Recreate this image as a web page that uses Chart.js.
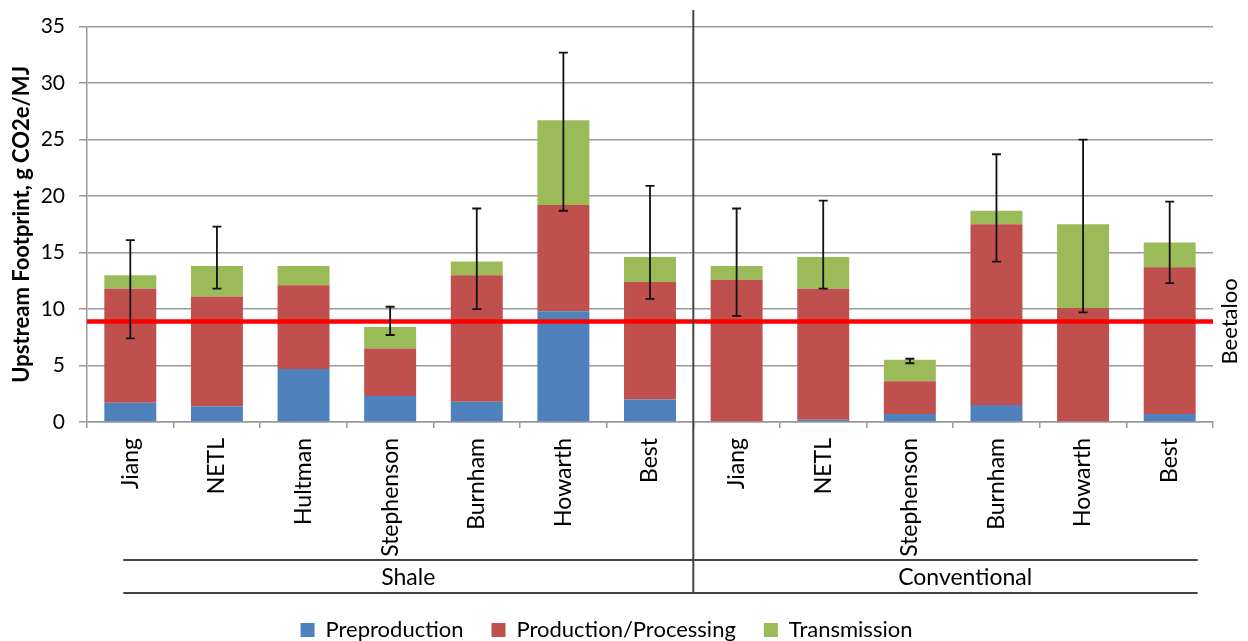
<!DOCTYPE html>
<html>
<head>
<meta charset="utf-8">
<title>Upstream Footprint</title>
<script src="https://cdn.jsdelivr.net/npm/chart.js@4"></script>
<style>
  html, body { margin: 0; padding: 0; background: #fff; }
  #wrap { width: 1248px; height: 641px; }
</style>
</head>
<body>
<div id="wrap"><canvas id="chart"></canvas></div>
<script>
const categories = ['Jiang', 'NETL', 'Hultman', 'Stephenson', 'Burnham', 'Howarth', 'Best',
  'Jiang', 'NETL', 'Stephenson', 'Burnham', 'Howarth', 'Best'];
const groups = ['Shale', 'Conventional'];
const groupSizes = [7, 6];

const preproduction = [1.7, 1.4, 4.7, 2.3, 1.8, 9.8, 2.0, 0, 0.2, 0.7, 1.5, 0, 0.7];
const production = [10.1, 9.7, 7.4, 4.2, 11.2, 9.4, 10.4, 12.6, 11.6, 2.9, 16.0, 10.1, 13.0];
const transmission = [1.2, 2.7, 1.7, 1.9, 1.2, 7.5, 2.2, 1.2, 2.8, 1.9, 1.2, 7.4, 2.2];

// error bar ends (absolute values), null = no error bar
const errLow = [7.4, 11.8, null, 7.7, 10.0, 18.7, 10.9, 9.4, 11.8, 5.2, 14.2, 9.7, 12.3];
const errHigh = [16.1, 17.3, null, 10.2, 18.9, 32.7, 20.9, 18.9, 19.6, 5.6, 23.7, 25.0, 19.5];

const beetaloo = 8.9;
const yTicks = [0, 5, 10, 15, 20, 25, 30, 35];

const FONT = 'Lato';
Chart.defaults.font.family = FONT;
Chart.defaults.color = '#000';

const overlay = {
  id: 'overlay',
  afterDatasetsDraw(chart) {
    const { ctx, chartArea, scales: { x, y } } = chart;
    ctx.save();

    // Beetaloo reference line
    const yb = y.getPixelForValue(beetaloo);
    ctx.strokeStyle = '#ff0000';
    ctx.lineWidth = 4.5;
    ctx.beginPath();
    ctx.moveTo(chartArea.left, yb);
    ctx.lineTo(chartArea.right, yb);
    ctx.stroke();

    ctx.fillStyle = '#000';
    ctx.font = `22px ${FONT}`;
    ctx.textAlign = 'center';
    ctx.textBaseline = 'middle';
    ctx.translate(chartArea.right + 17, yb);
    ctx.rotate(-Math.PI / 2);
    ctx.fillText('Beetaloo', 0, 0);
    ctx.restore();
    ctx.save();

    // error bars
    ctx.strokeStyle = '#111';
    ctx.lineWidth = 1.8;
    categories.forEach((c, i) => {
      if (errLow[i] == null) return;
      const px = x.getPixelForValue(i);
      const y1 = y.getPixelForValue(errLow[i]);
      const y2 = y.getPixelForValue(errHigh[i]);
      ctx.beginPath();
      ctx.moveTo(px, y1);
      ctx.lineTo(px, y2);
      ctx.moveTo(px - 4.5, y1);
      ctx.lineTo(px + 4.5, y1);
      ctx.moveTo(px - 4.5, y2);
      ctx.lineTo(px + 4.5, y2);
      ctx.stroke();
    });

    // group divider and group labels
    const step = x.getPixelForValue(1) - x.getPixelForValue(0);
    const divX = x.getPixelForValue(groupSizes[0] - 1) + step / 2;
    const rowTop = 560;
    const rowBottom = 593;
    const lineLeft = x.getPixelForValue(0) - 7;
    const lineRight = x.getPixelForValue(categories.length - 1) + 28;

    ctx.strokeStyle = '#444';
    ctx.lineWidth = 2;
    ctx.beginPath();
    ctx.moveTo(divX, 10);
    ctx.lineTo(divX, rowBottom);
    ctx.moveTo(lineLeft, rowTop);
    ctx.lineTo(lineRight, rowTop);
    ctx.moveTo(lineLeft, rowBottom);
    ctx.lineTo(lineRight, rowBottom);
    ctx.stroke();

    ctx.fillStyle = '#000';
    ctx.font = `23px ${FONT}`;
    ctx.textAlign = 'center';
    ctx.textBaseline = 'middle';
    const midY = (rowTop + rowBottom) / 2 + 1;
    ctx.fillText(groups[0], (lineLeft + divX) / 2, midY);
    ctx.fillText(groups[1], (divX + chartArea.right) / 2 + 12, midY);

    ctx.restore();
  }
};

new Chart(document.getElementById('chart'), {
  type: 'bar',
  data: {
    labels: categories,
    datasets: [
      { label: 'Preproduction', data: preproduction, backgroundColor: '#4f81bd', borderWidth: 0 },
      { label: 'Production/Processing', data: production, backgroundColor: '#c0504d', borderWidth: 0 },
      { label: 'Transmission', data: transmission, backgroundColor: '#9bbb59', borderWidth: 0 }
    ]
  },
  options: {
    responsive: true,
    maintainAspectRatio: false,
    animation: false,
    layout: { padding: { left: 0, right: 35, top: 24, bottom: -10 } },
    datasets: { bar: { barPercentage: 0.6, categoryPercentage: 1.0 } },
    plugins: {
      legend: {
        position: 'bottom',
        labels: {
          boxWidth: 14,
          boxHeight: 14,
          padding: 28,
          font: { size: 22 },
          color: '#000'
        }
      },
      tooltip: { enabled: false }
    },
    scales: {
      x: {
        stacked: true,
        afterFit(scale) { scale.height = 169; },
        grid: {
          offset: true,
          drawOnChartArea: false,
          drawTicks: true,
          tickLength: 6,
          color: '#999',
          lineWidth: 1.5
        },
        border: { color: '#999', width: 1.5 },
        ticks: {
          minRotation: 90,
          maxRotation: 90,
          autoSkip: false,
          padding: 10,
          font: { size: 23 },
          color: '#000'
        }
      },
      y: {
        stacked: true,
        min: 0,
        max: 35,
        afterFit(scale) { scale.width = 87; },
        afterBuildTicks(scale) { scale.ticks = yTicks.map((v) => ({ value: v })); },
        grid: { color: '#999', lineWidth: 1.5, tickLength: 8 },
        border: { color: '#999', width: 1.5 },
        ticks: { font: { size: 21 }, color: '#000', padding: 14 },
        title: {
          display: true,
          text: 'Upstream Footprint, g CO2e/MJ',
          font: { size: 22, weight: 'bold' },
          color: '#000',
          padding: { top: 9, bottom: 0 }
        }
      }
    }
  },
  plugins: [overlay]
});
</script>
</body>
</html>
